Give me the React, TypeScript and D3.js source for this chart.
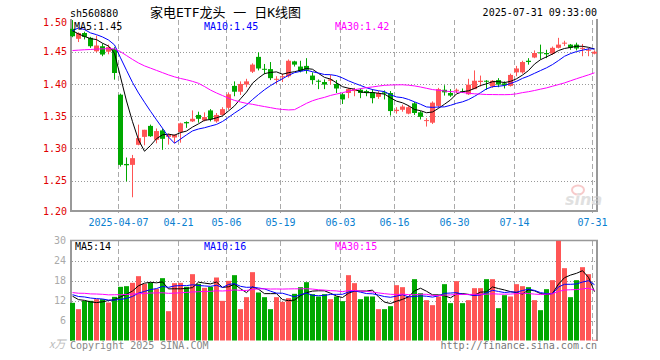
import React from "react";
import * as d3 from "d3";

const dates = [
  "2025-03-25","2025-03-26","2025-03-27","2025-03-28","2025-03-31","2025-04-01","2025-04-02","2025-04-03",
  "2025-04-07","2025-04-08","2025-04-09","2025-04-10","2025-04-11",
  "2025-04-14","2025-04-15","2025-04-16","2025-04-17","2025-04-18",
  "2025-04-21","2025-04-22","2025-04-23","2025-04-24","2025-04-25",
  "2025-04-28","2025-04-29","2025-04-30",
  "2025-05-06","2025-05-07","2025-05-08","2025-05-09",
  "2025-05-12","2025-05-13","2025-05-14","2025-05-15","2025-05-16",
  "2025-05-19","2025-05-20","2025-05-21","2025-05-22","2025-05-23",
  "2025-05-26","2025-05-27","2025-05-28","2025-05-29","2025-05-30",
  "2025-06-03","2025-06-04","2025-06-05","2025-06-06",
  "2025-06-09","2025-06-10","2025-06-11","2025-06-12","2025-06-13",
  "2025-06-16","2025-06-17","2025-06-18","2025-06-19","2025-06-20",
  "2025-06-23","2025-06-24","2025-06-25","2025-06-26","2025-06-27",
  "2025-06-30","2025-07-01","2025-07-02","2025-07-03","2025-07-04",
  "2025-07-07","2025-07-08","2025-07-09","2025-07-10","2025-07-11",
  "2025-07-14","2025-07-15","2025-07-16","2025-07-17","2025-07-18",
  "2025-07-21","2025-07-22","2025-07-23","2025-07-24","2025-07-25",
  "2025-07-28","2025-07-29","2025-07-30","2025-07-31",
];

const opens = [
  1.4855,1.470,1.479,1.4715,1.4507,1.4585,1.450,1.4544,1.3834,1.276,
  1.2746,1.3057,1.318,1.335,1.3135,1.328,1.318,1.317,1.3255,1.341,
  1.342,1.352,1.3435,1.359,1.342,1.352,1.363,1.397,1.388,1.399,
  1.419,1.442,1.4235,1.423,1.407,1.411,1.412,1.435,1.427,1.428,
  1.413,1.405,1.403,1.405,1.400,1.384,1.386,1.389,1.391,1.389,
  1.387,1.380,1.387,1.386,1.358,1.360,1.354,1.370,1.356,1.343,
  1.340,1.366,1.391,1.386,1.390,1.389,1.384,1.392,1.403,1.405,
  1.396,1.406,1.401,1.397,1.418,1.418,1.436,1.441,1.449,1.448,
  1.447,1.456,1.463,1.461,1.461,1.455,1.452,1.447,
];
const highs = [
  1.499,1.480,1.481,1.473,1.475,1.4627,1.461,1.457,1.385,1.286,
  1.290,1.337,1.329,1.337,1.331,1.331,1.323,1.322,1.340,1.342,
  1.359,1.357,1.356,1.361,1.355,1.364,1.387,1.404,1.404,1.408,
  1.432,1.449,1.431,1.434,1.412,1.416,1.438,1.436,1.436,1.440,
  1.418,1.407,1.407,1.414,1.406,1.386,1.394,1.394,1.393,1.391,
  1.392,1.389,1.390,1.389,1.364,1.368,1.367,1.372,1.358,1.347,
  1.373,1.394,1.398,1.392,1.393,1.393,1.408,1.421,1.413,1.406,
  1.406,1.409,1.404,1.416,1.428,1.436,1.440,1.452,1.461,1.453,
  1.458,1.4715,1.467,1.462,1.464,1.462,1.456,1.452,
];
const lows = [
  1.4725,1.465,1.469,1.456,1.449,1.443,1.446,1.4067,1.272,1.249,
  1.2244,1.305,1.305,1.318,1.308,1.298,1.306,1.308,1.309,1.332,
  1.341,1.340,1.342,1.342,1.340,1.351,1.360,1.381,1.383,1.395,
  1.417,1.421,1.415,1.406,1.400,1.403,1.410,1.427,1.418,1.416,
  1.400,1.392,1.392,1.399,1.386,1.369,1.378,1.381,1.378,1.381,
  1.370,1.377,1.376,1.351,1.354,1.357,1.353,1.352,1.345,1.334,
  1.338,1.363,1.382,1.380,1.386,1.386,1.383,1.392,1.396,1.391,
  1.394,1.395,1.393,1.396,1.412,1.416,1.430,1.440,1.438,1.440,
  1.445,1.455,1.459,1.453,1.452,1.443,1.443,1.446,
];
const closes = [
  1.474,1.479,1.473,1.4585,1.4596,1.4456,1.457,1.417,1.2746,1.274,
  1.285,1.316,1.329,1.319,1.327,1.315,1.321,1.321,1.339,1.339,
  1.346,1.346,1.3487,1.345,1.352,1.361,1.384,1.388,1.400,1.404,
  1.430,1.424,1.4225,1.409,1.408,1.412,1.436,1.430,1.420,1.422,
  1.406,1.404,1.399,1.407,1.393,1.376,1.392,1.392,1.386,1.386,
  1.378,1.386,1.385,1.358,1.360,1.365,1.364,1.355,1.349,1.344,
  1.371,1.392,1.387,1.382,1.391,1.388,1.399,1.405,1.405,1.404,
  1.405,1.399,1.398,1.414,1.424,1.434,1.434,1.448,1.448,1.446,
  1.456,1.461,1.464,1.456,1.455,1.456,1.453,1.450,
];
// volume, 10k units
const volumes = [
  11.3,9.4,11.9,11.9,12.4,12.4,11.4,13.1,16.1,16.3,
  17.3,19.3,17.0,17.4,15.5,18.7,8.8,17.2,17.3,16.1,
  19.9,17.0,15.8,16.1,18.9,11.9,17.9,19.6,9.4,13.0,
  20.5,14.4,13.0,9.4,13.0,11.6,12.7,14.0,16.0,17.5,
  13.9,13.2,13.9,12.4,13.2,11.8,19.6,17.2,12.4,13.2,
  13.2,9.4,9.4,10.3,16.6,16.0,13.2,18.4,14.2,12.1,
  10.6,13.2,16.9,11.2,17.8,11.2,12.1,15.7,15.7,18.4,
  18.4,9.7,13.6,13.2,16.9,16.3,16.0,12.1,9.1,15.4,
  18.1,29.9,21.7,13.0,18.1,22.0,19.9,0.2,
];
// closes / volumes of the 29 sessions before the visible window (for moving averages)
const priorCloses = [
  1.461,1.455,1.4465,1.4416,1.4336,1.451,1.423,1.4066,1.454,1.465,
  1.481,1.464,1.424,1.432,1.420,1.426,1.411,1.414,1.399,1.421,
  1.436,1.4987,1.510,1.487,1.481,1.504,1.493,1.475,1.467,
];
const priorVolumes = [
  15.2,12.8,17.1,13.5,14.9,16.3,12.2,15.8,14.4,13.1,
  16.7,15.0,12.9,14.6,17.4,13.8,15.5,14.1,12.6,16.0,
  14.8,13.3,15.1,14.2,13.5,14.6,13.0,14.2,13.4,
];

const tickDates = ["2025-04-07","2025-04-21","2025-05-06","2025-05-19","2025-06-03","2025-06-16","2025-06-30","2025-07-14","2025-07-31"];
const priceTicks = [1.2, 1.25, 1.3, 1.35, 1.4, 1.45, 1.5];
const volTicks = [6, 12, 18, 24, 30];
const maPeriods = [5, 10, 30];
const maColors = ["#000000", "#0000ff", "#ff00ff"];

const symbol = "sh560880";
const title = "家电ETF龙头 一 日K线图";
const stamp = "2025-07-31 09:33:00";

const UP = "#ff5555";
const DOWN = "#00a800";
const MONO = "'DejaVu Sans Mono', 'Liberation Mono', monospace";

function movingAverage(series: number[], prior: number[], n: number): number[] {
  const all = prior.concat(series);
  const off = prior.length;
  return series.map((_, i) => {
    const end = off + i + 1;
    return d3.mean(all.slice(Math.max(0, end - n), end)) as number;
  });
}

export default function App() {
  const idx = d3.range(dates.length);
  const x = d3.scaleBand<number>().domain(idx).range([69.5, 597.5]).paddingInner(1 / 6).paddingOuter(1 / 12);
  const bw = x.bandwidth();
  const yP = d3.scaleLinear().domain([1.2, 1.5]).range([213, 19.45]);
  const yV = d3.scaleLinear().domain([0, 30]).range([340.5, 240.5]);

  const priceMA = maPeriods.map((n) => movingAverage(closes, priorCloses, n));
  const volMA = maPeriods.map((n) => movingAverage(volumes, priorVolumes, n));

  const lineP = d3.line<number>().x((_, i) => (x(i) as number) + bw / 2).y((d) => yP(d));
  const lineV = d3.line<number>().x((_, i) => (x(i) as number) + bw / 2).y((d) => yV(d));

  const last = dates.length - 1;
  const gridX = tickDates.map((d) => (x(dates.indexOf(d)) as number) + 0.5);

  return (
    <svg width={660} height={360} style={{ position: "absolute", left: 0, top: 0, background: "#fff" }}
      fontFamily={MONO} fontSize={10}>
      <rect x={0} y={0} width={660} height={360} fill="#fff" />
      {/* header */}
      <text x={70} y={16.5} fill="#000">{symbol}</text>
      <text x={150} y={17} fill="#000" fontSize={13} fontFamily="'DejaVu Sans Mono', 'Noto Sans CJK SC', sans-serif">{title}</text>
      <text x={597} y={16} fill="#000" textAnchor="end">{stamp}</text>

      {/* price grid */}
      {priceTicks.filter((t) => t > 1.2 && t < 1.5).map((t) => (
        <line key={"hg" + t} x1={72} x2={597} y1={Math.round(yP(t)) + 0.5} y2={Math.round(yP(t)) + 0.5}
          stroke="#999" strokeDasharray="1,2" />
      ))}
      {gridX.map((gx, i) => (
        <g key={"vg" + i}>
          <line x1={gx} x2={gx} y1={20} y2={213} stroke="#aaa" strokeDasharray="5,3" />
          <line x1={gx} x2={gx} y1={241} y2={340} stroke="#aaa" strokeDasharray="5,3" />
        </g>
      ))}
      {/* price frame */}
      <line x1={71} x2={71} y1={19} y2={212} stroke="#999" strokeWidth={2} />
      <line x1={70} x2={598} y1={211} y2={211} stroke="#999" strokeWidth={2} />
      <line x1={597} x2={597} y1={19} y2={212} stroke="#999" strokeWidth={2} />

      {/* price labels */}
      {priceTicks.map((t) => {
        const cy = Math.min(211.7, Math.max(22.3, yP(t)));
        return (
          <text key={"pl" + t} x={67} y={cy + 3.6} fill="#e00000" textAnchor="end">{t.toFixed(2)}</text>
        );
      })}
      {/* date labels */}
      {tickDates.map((d, i) => (
        <text key={"dl" + d} x={gridX[i]} y={225.5} fill="#0a80d0" textAnchor="middle">
          {i === 0 ? d : d.slice(5)}
        </text>
      ))}

      {/* watermark */}
      <g opacity={0.55}>
        <ellipse cx={578} cy={190} rx={6} ry={4.5} fill="none" stroke="#f2a0a0" strokeWidth={2} />
        <text x={565} y={205} fontSize={16} fontStyle="italic" fontWeight="bold" fill="#c8c8c8"
          fontFamily="'DejaVu Sans', sans-serif">sina</text>
      </g>

      {/* candles */}
      {idx.map((i) => {
        const o = opens[i], c = closes[i], h = highs[i], l = lows[i];
        const up = c >= o;
        const col = up ? UP : DOWN;
        const x0 = x(i) as number;
        const top = yP(Math.max(o, c));
        const bh = Math.max(1, Math.abs(yP(o) - yP(c)));
        return (
          <g key={"k" + i}>
            <rect x={x0 + 2} y={yP(h)} width={1} height={Math.max(1, yP(l) - yP(h))} fill={col} />
            <rect x={x0} y={top} width={bw} height={bh} fill={col} />
          </g>
        );
      })}
      {/* price MAs */}
      {priceMA.map((s, k) => (
        <path key={"pma" + k} d={lineP(s) as string} fill="none" stroke={maColors[k]} strokeWidth={1} />
      ))}
      <text x={74} y={29.5} fill="#000">MA5:{priceMA[0][last].toFixed(2)}</text>
      <text x={204} y={29.5} fill="#0000ff">MA10:{priceMA[1][last].toFixed(2)}</text>
      <text x={335} y={29.5} fill="#ff00ff">MA30:{priceMA[2][last].toFixed(2)}</text>

      {/* volume panel */}
      {volTicks.filter((t) => t < 30).map((t) => (
        <line key={"vh" + t} x1={72} x2={597} y1={Math.round(yV(t)) + 0.5} y2={Math.round(yV(t)) + 0.5}
          stroke="#999" strokeDasharray="1,2" />
      ))}
      <line x1={70} x2={598} y1={240.5} y2={240.5} stroke="#999" strokeWidth={1.5} />
      <line x1={71} x2={71} y1={240} y2={341} stroke="#999" strokeWidth={2} />
      <line x1={597} x2={597} y1={240} y2={341} stroke="#999" strokeWidth={2} />
      {volTicks.map((t) => (
        <text key={"vl" + t} x={66} y={yV(t) + 3.2} fill="#aaa" textAnchor="end">{t}</text>
      ))}
      <text x={49} y={348} fill="#bbb" fontSize={11} fontStyle="italic" fontFamily="'Noto Sans CJK SC', sans-serif">x万</text>
      {idx.map((i) => (
        <rect key={"v" + i} x={x(i) as number} y={yV(volumes[i])} width={bw}
          height={Math.max(0.5, yV(0) - yV(volumes[i]))} fill={closes[i] >= opens[i] ? UP : DOWN} />
      ))}
      {volMA.map((s, k) => (
        <path key={"vma" + k} d={lineV(s) as string} fill="none" stroke={maColors[k]} strokeWidth={1} />
      ))}
      <text x={75} y={250} fill="#000">MA5:{Math.floor(volMA[0][last])}</text>
      <text x={204} y={250} fill="#0000ff">MA10:{Math.floor(volMA[1][last])}</text>
      <text x={335} y={250} fill="#ff00ff">MA30:{Math.floor(volMA[2][last])}</text>

      {/* footer */}
      <text x={70} y={349} fill="#888">Copyright 2025 SINA.COM</text>
      <text x={597} y={349} fill="#777" textAnchor="end">http://finance.sina.com.cn</text>
    </svg>
  );
}
